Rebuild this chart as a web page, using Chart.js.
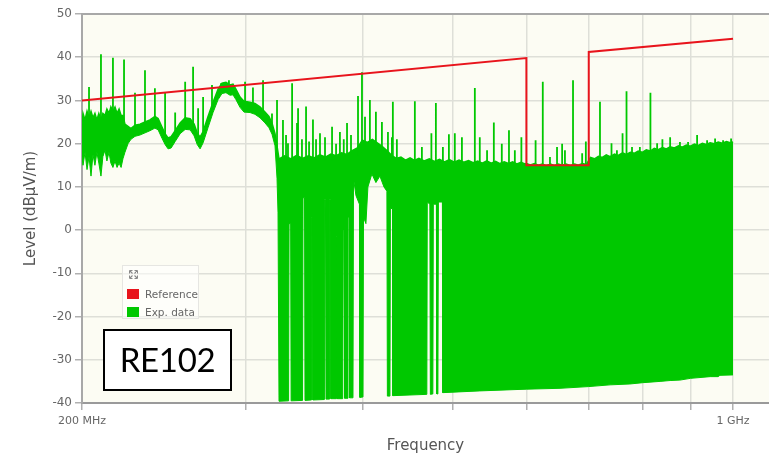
<!DOCTYPE html>
<html lang="es">
<head>
<meta charset="utf-8">
<title>RE102</title>
<script src="https://cdn.jsdelivr.net/npm/chart.js@4/dist/chart.umd.min.js"></script>
<style>
    html, body { margin: 0; padding: 0; background: #fff; overflow: hidden; }
    #contenedor { position: relative; width: 769px; height: 457px; }
    #leyenda {
        position: absolute; left: 122px; top: 265px; width: 77px; height: 54px;
        background: rgba(255,255,255,0.55); border: 1px solid #e6e6e2; box-sizing: border-box;
        font: 10.5px "DejaVu Sans", sans-serif; color: #666;
    }
    #leyenda .icono { position: absolute; left: 6px; top: 4px; }
    #leyenda .item { position: absolute; left: 4px; height: 12px; line-height: 12px; white-space: nowrap; }
    #leyenda .caja { display: inline-block; width: 12px; height: 10px; vertical-align: -1px; margin-right: 6px; }
    #etiqueta {
        position: absolute; left: 103px; top: 329px; width: 129px; height: 62px;
        box-sizing: border-box; border: 2px solid #000; background: #fff;
        font: 33px Lato, "Noto Sans", sans-serif; letter-spacing: -0.3px; color: #000;
        text-align: center; line-height: 57px;
    }
</style>
</head>
<body>
<div id="contenedor">
    <canvas id="grafica" width="769" height="457"></canvas>
    <div id="leyenda">
        <svg class="icono" width="9" height="9" viewBox="0 0 9 9">
            <path d="M0.5 0.5h3M0.5 0.5v3M0.5 0.5l3 3M8.5 0.5h-3M8.5 0.5v3M8.5 0.5l-3 3M0.5 8.5h3M0.5 8.5v-3M0.5 8.5l3-3M8.5 8.5h-3M8.5 8.5v-3M8.5 8.5l-3-3" stroke="#888" stroke-width="1.1" fill="none"/>
        </svg>
        <div class="item" style="top:22px"><span class="caja" style="background:#e8141c"></span>Reference</div>
        <div class="item" style="top:40px"><span class="caja" style="background:#00c800"></span>Exp. data</div>
    </div>
    <div id="etiqueta">RE102</div>
</div>

<script>
// Límite de referencia (MHz, dBµV/m)
const frecReferencia = [200, 600, 600, 700, 700, 1000];
const nivelReferencia = [30, 39.8, 15, 15, 41.2, 44.3];

// Borde superior de la medida
const frecSuperior = [
    200.0, 200.5, 201.5, 202.5, 203.5, 204.5, 205.5, 206.5, 207.5, 208.5,
    209.6, 210.6, 211.7, 212.7, 213.8, 214.8, 215.9, 217.0, 218.1, 219.2,
    220.3, 221.3, 222.4, 224.1, 225.7, 228.0, 230.8, 233.7, 236.6, 239.5,
    241.4, 243.8, 245.6, 247.4, 249.3, 251.8, 254.9, 258.1, 261.3, 263.9,
    265.9, 267.8, 269.8, 273.1, 276.5, 280.0, 282.7, 285.5, 288.4, 290.5,
    292.6, 295.6, 298.5, 303.0, 306.7, 310.5, 314.4, 317.5, 319.9, 322.3,
    323.9, 325.5, 330, 335, 340, 345, 350, 355, 360, 365,
    370, 375, 380, 385, 390, 395, 400, 405, 410, 415,
    420, 425, 430, 435, 440, 445, 450, 455, 460, 466,
    472, 478, 484, 490, 496, 502, 508, 514, 520, 526,
    532, 538, 544, 550, 556, 562, 568, 574, 580, 586,
    592, 598, 600, 606, 612, 618, 624, 630, 637, 643,
    649, 656, 662, 669, 676, 682, 689, 696, 703, 710,
    717, 724, 731, 738, 746, 753, 761, 768, 776, 784,
    791, 799, 807, 815, 823, 831, 840, 848, 856, 865,
    874, 882, 891, 900, 909, 918, 927, 936, 945, 955,
    964, 974, 984, 993, 1000
];
const nivelSuperior = [
    24.5, 27, 25.5, 27.5, 26, 27.5, 26, 27, 25.5, 27,
    25.5, 27, 26.5, 28, 27, 28.5, 27.5, 28.5, 27, 28,
    26.5, 26.5, 24.5, 24, 23.5, 24.3, 24.5, 25, 25.5, 26.3,
    25.8, 23.8, 22.3, 21.3, 21.6, 23, 24.8, 26, 25.8, 24.5,
    22.5, 21.5, 22.8, 26.3, 29.6, 32.6, 34, 34.2, 33.6, 33.8,
    32.6, 30.8, 29.8, 29.6, 29.3, 28.5, 27.3, 26.3, 24.8, 22.3,
    19.5, 16.5, 17.2, 16.5, 17.3, 16.6, 17.2, 16.7, 17.4, 16.9,
    17.6, 17.2, 17.9, 17.5, 18.4, 19, 20.8, 20.3, 21, 20.2,
    19.4, 18.4, 17.3, 16.6, 16.9, 16.2, 16.7, 16.1, 16.6, 16,
    16.5, 15.9, 16.4, 15.8, 16.3, 15.7, 16.2, 15.7, 16.1, 15.6,
    16, 15.5, 16, 15.5, 15.9, 15.4, 15.8, 15.4, 15.8, 15.3,
    15.7, 15.3, 15.4, 15.1, 15.4, 15, 15.3, 14.9, 15.3, 14.9,
    15.3, 15, 15.3, 14.9, 15.3, 15, 15.4, 15.2, 16.8, 16.5,
    17.1, 16.8, 17.4, 17, 17.6, 17.3, 17.9, 17.5, 18, 17.8,
    18.3, 18, 18.6, 18.3, 18.9, 18.6, 19.1, 18.8, 19.3, 19,
    19.5, 19.2, 19.7, 19.4, 19.9, 19.6, 20.1, 19.8, 20.2, 20,
    20.4, 20.1, 20.5, 20.2, 20.4
];

// Borde inferior de la medida (las bajadas a -39 son los huecos del barrido)
const frecInferior = [
    200.0, 200.5, 201.5, 202.5, 203.5, 204.5, 205.5, 206.5, 207.5, 208.5,
    209.6, 210.6, 211.7, 212.7, 213.8, 214.8, 215.9, 217.0, 218.1, 219.2,
    220.3, 221.3, 222.4, 224.1, 225.7, 228.0, 230.8, 233.7, 236.6, 239.5,
    241.4, 243.8, 245.6, 247.4, 249.3, 251.8, 254.9, 258.1, 261.3, 263.9,
    265.9, 267.8, 269.8, 273.1, 276.5, 280.0, 282.7, 285.5, 288.4, 290.5,
    292.6, 295.6, 298.5, 303.0, 306.7, 310.5, 314.4, 317.5, 319.9, 322.3,
    323.9, 324.7, 325.5, 333.3, 333.7, 335.0, 335.4, 345.0, 345.4, 346.7,
    347.1, 352.3, 352.7, 353.6, 354.0, 363.8, 364.2, 365.1, 365.6, 368.4,
    368.8, 369.7, 370.1, 374.8, 375.2, 375.7, 375.9, 381.0, 381.6, 382.5,
    382.9, 386.0, 386.2, 387.3, 387.5, 390.8, 391.3, 393.7, 397.1, 397.6,
    400.6, 401.1, 403.5, 405.5, 409.5, 413.6, 417.7, 421.9, 425.0, 425.5,
    428.2, 428.7, 430.9, 431.3, 469.1, 469.6, 472.6, 473.2, 476.1, 476.7,
    480.3, 480.9, 482.1, 482.7, 487.5, 488.0, 534.7, 600, 652, 700,
    738, 775, 800, 835, 856, 877, 900, 945, 964, 968,
    1000
];
const nivelInferior = [
    17, 15, 18, 14, 17, 12.5, 17.5, 15, 18, 15.5,
    12.5, 17, 18.5, 16, 18, 15.5, 14.5, 16, 14.5, 15.5,
    14.5, 16.5, 18, 20, 21, 21.7, 22, 22.5, 23, 23.6,
    23.2, 21.2, 19.8, 18.8, 19, 20.5, 22.3, 23.3, 23.2, 21.8,
    19.8, 18.8, 20.2, 23.7, 27.2, 30.2, 31.6, 31.8, 31.2, 31.3,
    30.2, 28.4, 27.3, 27.2, 26.8, 26, 24.8, 23.7, 22.2, 19.5,
    12, 4, -39.6, -39.5, 1.5, 1.5, -39.5, -39.4, 7.5, 7.5,
    -39.4, -39.3, 3, 3, -39.3, -39.2, 7, 7, -39.1, -39.1,
    7, 7, -39, -39, -1.5, -1.5, -39, -39, 0, 0,
    -38.9, -38.9, 3, 3, -38.8, -38.8, 12, 8, 6, -38.7,
    -38.6, 3, 1.5, 10, 13, 11, 12.5, 10, 9, -38.4,
    -38.4, 5, 5, -38.3, -38, 6.5, 6, -38, -37.9, 6,
    6, -37.9, -37.9, 6.5, 6.5, -37.6, -37.2, -36.8, -36.6, -36.2,
    -35.8, -35.6, -35.3, -35, -34.8, -34.7, -34.3, -33.9, -33.9, -33.6,
    -33.5
];

// Picos estrechos: frecuencia, nivel máximo y nivel donde arrancan
const frecPicos = [
    203.5, 209.6, 215.9, 221.9, 228.0, 233.7, 239.5, 245.6, 251.8, 258.1,
    263.2, 266.5, 269.8, 275.8, 282.0, 287.6, 299.3, 305.2, 312.9, 319.9,
    323.9, 328.7, 331.2, 332.8, 336.2, 340.3, 341.2, 344.5, 348.0, 350.6,
    354.0, 356.7, 360.2, 364.7, 371.1, 374.8, 378.4, 382.0, 385.1, 388.9,
    395.7, 399.6, 402.6, 407.5, 413.6, 419.8, 426.1, 430.3, 431.3, 435.6,
    455.4, 463.4, 474.4, 479.7, 488.1, 495.4, 502.7, 511.6, 528.2, 534.7,
    544.4, 553.6, 564.6, 574.7, 583.1, 592.6, 613.8, 624.8, 636, 647.2,
    655.4, 660, 673.3, 688.7, 695, 719.7, 740.5, 750.5, 761, 768.5,
    779, 794.3, 815.3, 828.9, 839.8, 856, 877, 894.8, 915, 937.9,
    956.6, 975.7, 995.2
];
const picoAlto = [
    33.1, 40.7, 39.9, 39.5, 31.8, 37, 32.8, 31.7, 27.2, 34.3,
    37.8, 28.2, 30.8, 33.6, 34, 34.7, 34.3, 33, 34.7, 27,
    30.1, 25.5, 22, 20.1, 34, 24.8, 28.2, 21, 28.6, 20.5,
    25.6, 21, 22.4, 21.5, 23.9, 20, 22.7, 21, 24.8, 22,
    31, 36.5, 26.2, 30.1, 27.4, 25, 22.7, 21.5, 29.7, 21,
    29.8, 19.2, 22.4, 29.4, 19.2, 22.2, 22.4, 21.5, 32.9, 21.5,
    18.5, 24.9, 20, 23.1, 18.5, 21.5, 20.8, 34.3, 16.9, 19.2,
    20, 18.5, 34.7, 17.8, 20.5, 29.7, 20.1, 18.5, 22.4, 32.1,
    19.2, 19.2, 31.8, 20.1, 21, 21.5, 20.4, 20.4, 22, 20.8,
    21.2, 20.8, 21.2
];
const picoBase = [
    24, 24, 25, 24, 23, 24, 25, 21, 22, 25,
    24, 21, 21.5, 28, 32, 32, 28.5, 28.3, 27, 23,
    18, 16, 16, 16, 16, 16, 16, 16, 16, 16,
    16, 16, 16, 16, 16, 16, 16, 16, 16, 16,
    17, 18, 19, 19, 19, 18, 17, 16.5, 16.5, 16,
    15.5, 15.5, 15.5, 15.5, 15.5, 15.5, 15.5, 15.5, 15.5, 15.5,
    15, 15, 15, 15, 15, 15, 14.8, 14.8, 14.8, 14.8,
    14.8, 14.8, 14.8, 14.8, 14.8, 16.5, 16.5, 16.5, 17, 17,
    17.5, 17.5, 18, 18, 18.5, 18.5, 19, 19, 19, 19.5,
    19.5, 19.5, 19.5
];

// Marcas del eje de frecuencia (sólo se rotulan los extremos)
const ticksFrecuencia = [200, 300, 400, 500, 600, 700, 800, 900, 1000];
const etiquetasFrecuencia = { 200: '200 MHz', 1000: '1 GHz' };
const nivelMin = -40;
const nivelMax = 50;

const ROJO = '#e8141c';
const VERDE = '#00c800';

function aPuntos(frecs, niveles) {
    return frecs.map((f, i) => ({ x: f, y: niveles[i] }));
}

// cada pico es un trazo vertical; el null corta la línea entre picos
function puntosPicos() {
    const datos = [];
    frecPicos.forEach((f, i) => {
        datos.push({ x: f, y: picoAlto[i] });
        datos.push({ x: f, y: picoBase[i] });
        datos.push({ x: f, y: null });
    });
    return datos;
}

// fondo crema del área de trazado y borde superior
const fondoArea = {
    id: 'fondoArea',
    beforeDraw(chart) {
        const { ctx, chartArea: a } = chart;
        ctx.save();
        ctx.fillStyle = '#fcfcf3';
        ctx.fillRect(a.left, a.top, a.right - a.left, a.bottom - a.top);
        ctx.restore();
    },
    beforeDatasetsDraw(chart) {
        const { ctx, chartArea: a } = chart;
        ctx.save();
        ctx.strokeStyle = '#a8a8a8';
        ctx.lineWidth = 2;
        ctx.beginPath();
        ctx.moveTo(a.left, a.top);
        ctx.lineTo(a.right, a.top);
        ctx.stroke();
        ctx.restore();
    }
};

const ctx = document.getElementById('grafica').getContext('2d');

new Chart(ctx, {
    type: 'line',
    data: {
        datasets: [
            {
                label: 'Reference',
                data: aPuntos(frecReferencia, nivelReferencia),
                borderColor: ROJO,
                borderWidth: 2,
                pointRadius: 0,
                fill: false,
                order: 0
            },
            {
                label: 'Picos',
                data: puntosPicos(),
                borderColor: VERDE,
                borderWidth: 1.8,
                pointRadius: 0,
                spanGaps: false,
                fill: false,
                order: 1
            },
            {
                label: 'Exp. data',
                data: aPuntos(frecSuperior, nivelSuperior),
                borderColor: VERDE,
                backgroundColor: VERDE,
                borderWidth: 1.5,
                pointRadius: 0,
                fill: '+1',
                order: 2
            },
            {
                label: 'Exp. data (inferior)',
                data: aPuntos(frecInferior, nivelInferior),
                borderColor: VERDE,
                borderWidth: 1,
                pointRadius: 0,
                fill: false,
                order: 3
            }
        ]
    },
    options: {
        responsive: false,
        animation: false,
        devicePixelRatio: 1,
        layout: { padding: { top: 14, right: 0, bottom: 0, left: 0 } },
        elements: { line: { tension: 0 } },
        plugins: {
            legend: { display: false },
            tooltip: { enabled: false }
        },
        scales: {
            x: {
                type: 'logarithmic',
                min: 200,
                max: 1093,
                afterBuildTicks: scale => {
                    scale.ticks = ticksFrecuencia.map(v => ({ value: v }));
                },
                afterFit: scale => { scale.height = 54; },
                ticks: {
                    autoSkip: false,
                    maxRotation: 0,
                    padding: 5,
                    color: '#666',
                    font: { family: 'DejaVu Sans', size: 11 },
                    callback: value => etiquetasFrecuencia[value] || ''
                },
                grid: {
                    color: '#dedfd8',
                    lineWidth: 1.5,
                    tickLength: 7,
                    tickColor: '#b0b0b0'
                },
                border: { color: '#9a9a9a', width: 2 },
                title: {
                    display: true,
                    text: 'Frequency',
                    color: '#555',
                    font: { family: 'DejaVu Sans', size: 15 },
                    padding: { top: 0, bottom: 2 }
                }
            },
            y: {
                min: nivelMin,
                max: nivelMax,
                afterFit: scale => { scale.width = 82; },
                ticks: {
                    stepSize: 10,
                    padding: 3,
                    color: '#666',
                    font: { family: 'DejaVu Sans', size: 12 }
                },
                grid: {
                    color: '#dedfd8',
                    lineWidth: 1.5,
                    tickLength: 7,
                    tickColor: '#b0b0b0'
                },
                border: { color: '#a8a8a8', width: 2 },
                title: {
                    display: true,
                    text: 'Level (dBµV/m)',
                    color: '#555',
                    font: { family: 'DejaVu Sans', size: 15 },
                    padding: { top: 22, bottom: 0 }
                }
            }
        }
    },
    plugins: [fondoArea]
});
</script>
</body>
</html>
